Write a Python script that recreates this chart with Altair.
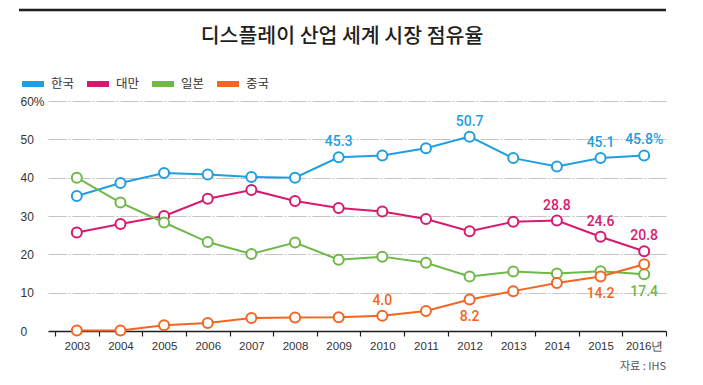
import altair as alt
import pandas as pd

years = [str(y) for y in range(2003, 2017)]
series_names = ["한국", "대만", "일본", "중국"]
colors = ["#1f9fe0", "#d71a6f", "#6fb84a", "#f26522"]

korea = [35.2, 38.6, 41.2, 40.8, 40.2, 40.0, 45.3, 45.8, 47.7, 50.7, 45.1, 42.9, 45.1, 45.8]
taiwan = [25.7, 27.9, 30.0, 34.5, 36.8, 33.9, 32.1, 31.2, 29.2, 26.0, 28.5, 28.8, 24.6, 20.8]
japan = [40.0, 33.5, 28.3, 23.2, 20.1, 23.1, 18.6, 19.4, 17.8, 14.2, 15.5, 15.0, 15.6, 14.8]
china = [0.1, 0.1, 1.5, 2.1, 3.4, 3.5, 3.6, 4.0, 5.2, 8.2, 10.4, 12.5, 14.2, 17.4]

# data labels: (series, year, anchor value, text, position)
label_series = ["한국", "한국", "한국", "한국", "대만", "대만", "대만", "중국", "중국", "중국", "일본"]
label_years = ["2009", "2012", "2015", "2016", "2014", "2015", "2016", "2010", "2012", "2015", "2016"]
label_anchor = [45.3, 50.7, 45.1, 45.8, 28.8, 24.6, 20.8, 4.0, 8.2, 14.2, 14.8]
label_text = ["45.3", "50.7", "45.1", "45.8%", "28.8", "24.6", "20.8", "4.0", "8.2", "14.2", "17.4"]
label_pos = ["above", "above", "above", "above", "above", "above", "above", "above", "below", "below", "below"]

title_text = "디스플레이 산업 세계 시장 점유율"
source_text = "자료 : IHS"

rows = []
for name, vals in zip(series_names, [korea, taiwan, japan, china]):
    for y, v in zip(years, vals):
        rows.append({"year": y, "value": v, "series": name})
df = pd.DataFrame(rows)

lab = pd.DataFrame({
    "series": label_series, "year": label_years, "value": label_anchor,
    "text": label_text, "pos": label_pos,
})

NUM_FONT = "Liberation Sans, Arial, sans-serif"
LBL_FONT = "Roboto, Liberation Sans, sans-serif"
KR_FONT = "Noto Sans CJK KR, Noto Sans, sans-serif"

W, H = 618, 230

xenc = alt.X("year:N", sort=years, title=None,
             scale=alt.Scale(paddingInner=0, paddingOuter=0.08, align=1),
             axis=alt.Axis(tickBand="extent", labelAngle=0, domainColor="#231f20",
                           domainWidth=1.5, tickColor="#231f20", tickSize=5, tickWidth=1.2,
                           labelFont=NUM_FONT, labelFontSize=11.5, labelColor="#333333",
                           labelPadding=4, grid=False, labelOverlap=False,
                           labelExpr="datum.value == '2016' ? '2016년' : datum.label"))
yenc = alt.Y("value:Q", title=None,
             scale=alt.Scale(domain=[0, 60], nice=False, zero=True),
             axis=alt.Axis(values=[0, 10, 20, 30, 40, 50, 60], domain=False, ticks=False,
                           tickSize=0, labelAlign="left", labelPadding=28,
                           labelFont=NUM_FONT, labelFontSize=12, labelColor="#333333",
                           labelOverlap=False, labelBound=False, labelFlush=False,
                           labelExpr="datum.value == 60 ? '60%' : datum.label",
                           grid=True, gridColor="#c4c4c4", gridWidth=1.2,
                           gridDash=[18, 2, 2, 2]))
cenc = alt.Color("series:N", sort=series_names,
                 scale=alt.Scale(domain=series_names, range=colors),
                 legend=alt.Legend(title=None, orient="none", legendX=-29, legendY=-31,
                                   direction="horizontal",
                                   symbolType="stroke", symbolSize=484,
                                   symbolStrokeWidth=6, symbolOpacity=1,
                                   labelFont=KR_FONT, labelFontSize=12.5, labelColor="#333333",
                                   labelOffset=4, columnPadding=0))

base = alt.Chart(df)
lines = base.mark_line(strokeWidth=2).encode(x=xenc, y=yenc, color=cenc,
                                               detail="series:N")
points = base.mark_point(shape="circle", filled=True, fill="white", size=100,
                         strokeWidth=2, opacity=1).encode(
    x=xenc, y=yenc,
    stroke=alt.Stroke("series:N", scale=alt.Scale(domain=series_names, range=colors),
                      legend=None))

lab_color = alt.Color("series:N", scale=alt.Scale(domain=series_names, range=colors),
                      legend=None)
above = alt.Chart(lab).transform_filter("datum.pos == 'above'").mark_text(
    font=LBL_FONT, fontSize=14, fontWeight=500, baseline="middle", dy=-15).encode(
    x=xenc, y=yenc, text="text:N", color=lab_color)
below = alt.Chart(lab).transform_filter("datum.pos == 'below'").mark_text(
    font=LBL_FONT, fontSize=14, fontWeight=500, baseline="middle", dy=17.5).encode(
    x=xenc, y=yenc, text="text:N", color=lab_color)

texts = pd.DataFrame({"t": [source_text]})
src = alt.Chart(texts).mark_text(font=KR_FONT, fontSize=11, color="#555555",
                                 align="right", baseline="middle").encode(
    text="t:N", x=alt.value(W), y=alt.value(266))

ttl = alt.Chart(pd.DataFrame({"t": [title_text]})).mark_text(
    font=KR_FONT, fontSize=20.5, fontWeight=500, color="#231f20",
    align="center", baseline="middle").encode(
    text="t:N", x=alt.value(294), y=alt.value(-64))

topline = alt.Chart(texts).mark_rule(color="#231f20", strokeWidth=2.5).encode(
    x=alt.value(-29), x2=alt.value(W), y=alt.value(-91))

chart = alt.layer(lines, points, above, below, src, ttl, topline).properties(
    width=W, height=H,
    autosize=alt.AutoSizeParams(type="none"),
    padding={"left": 40, "top": 93, "right": 29, "bottom": 46},
).configure_view(stroke=None).resolve_scale(color="independent")

chart.save("out.html", embed_options={"renderer": "svg", "actions": False})
